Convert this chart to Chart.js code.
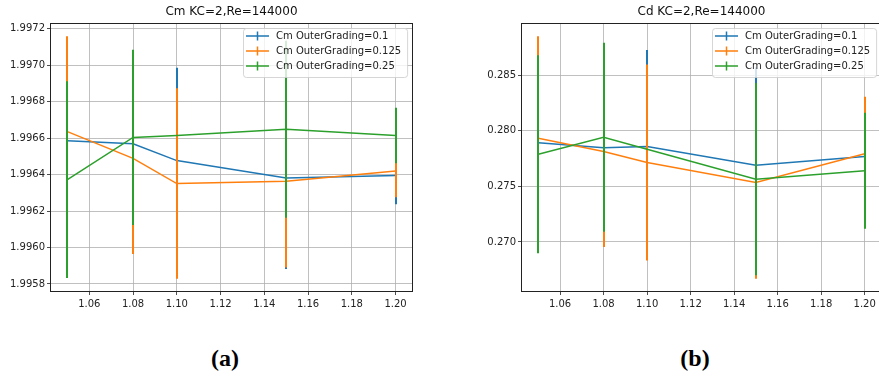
<!DOCTYPE html>
<html>
<head>
<meta charset="utf-8">
<script src="https://cdn.jsdelivr.net/npm/chart.js@4.4.0/dist/chart.umd.min.js"></script>
<style>
  html, body { margin: 0; padding: 0; background: #fff; overflow: hidden; }
  body { width: 879px; height: 373px; position: relative; }
  canvas { position: absolute; top: 0; }
  #cmChart { left: 0; }
  #cdChart { left: 440px; }
  .sub {
    position: absolute;
    top: 345px;
    line-height: 24px;
    font: bold 24px "Liberation Serif", serif;
    transform: translateX(-50%);
    color: #000;
  }
</style>
</head>
<body>
<canvas id="cmChart" width="440" height="320"></canvas>
<canvas id="cdChart" width="460" height="320"></canvas>
<div class="sub" style="left:225px">(a)</div>
<div class="sub" style="left:695px">(b)</div>

<script>
// ---------- Data ----------
const xValues = [1.05, 1.08, 1.10, 1.15, 1.20];
const xTicks = [1.06, 1.08, 1.10, 1.12, 1.14, 1.16, 1.18, 1.20];
const xRange = [1.0425, 1.2075];

const seriesLabels = ["Cm OuterGrading=0.1", "Cm OuterGrading=0.125", "Cm OuterGrading=0.25"];
const seriesColors = ["#1f77b4", "#ff7f0e", "#2ca02c"];

// inertia coefficient Cm (mean and spread per case)
const cmGrading01 = [1.996586, 1.996569, 1.996477, 1.996382, 1.996395];
const cmGrading0125 = [1.996636, 1.996489, 1.996351, 1.996364, 1.996420];
const cmGrading025 = [1.996373, 1.996604, 1.996615, 1.996649, 1.996615];
const cmErr01 = [0.00030, 0.00035, 0.000509, 0.00050, 0.000158];
const cmErr0125 = [0.000524, 0.000525, 0.000523, 0.000473, 0.000144];
const cmErr025 = [0.00054, 0.000481, 0.0, 0.000486, 0.000152];
const cmTicks = [1.9958, 1.9960, 1.9962, 1.9964, 1.9966, 1.9968, 1.9970, 1.9972];
const cmRange = [1.9957614, 1.9972266];

// drag coefficient Cd
const cdGrading01 = [0.278907, 0.278459, 0.278575, 0.276900, 0.277680];
const cdGrading0125 = [0.279320, 0.278127, 0.277142, 0.275350, 0.277920];
const cdGrading025 = [0.277885, 0.279409, 0.278333, 0.275645, 0.276400];
const cdErr01 = [0.0075, 0.0075, 0.008665, 0.0088, 0.0035];
const cdErr0125 = [0.009175, 0.008575, 0.008808, 0.008665, 0.005136];
const cdErr025 = [0.00889, 0.008485, 0.0, 0.008629, 0.005222];
const cdTicks = [0.270, 0.275, 0.280, 0.285];
const cdRange = [0.265595, 0.289585];

Chart.defaults.font.family = "'DejaVu Sans', sans-serif";
Chart.defaults.font.size = 10;
Chart.defaults.color = "#222";

// ---------- Plugins ----------
// vertical error bars, drawn right after their own line so later series sit on top
const errorBarPlugin = {
  id: "errorBars",
  afterDatasetDraw(chart, args) {
    const ds = chart.data.datasets[args.index];
    if (!ds.errors) return;
    const xs = chart.scales.x, ys = chart.scales.y;
    const ctx = chart.ctx;
    ctx.save();
    ctx.strokeStyle = ds.borderColor;
    ctx.lineWidth = 2;
    ds.data.forEach((p, i) => {
      const e = ds.errors[i];
      if (!e) return;
      // snap to whole pixels so stacked bars cover each other cleanly
      const px = Math.round(xs.getPixelForValue(p.x));
      ctx.beginPath();
      ctx.moveTo(px, ys.getPixelForValue(p.y - e));
      ctx.lineTo(px, ys.getPixelForValue(p.y + e));
      ctx.stroke();
    });
    ctx.restore();
  }
};

// four-sided axes box
const framePlugin = {
  id: "frame",
  afterDatasetsDraw(chart) {
    const { ctx, chartArea: a } = chart;
    ctx.save();
    ctx.strokeStyle = "#222";
    ctx.lineWidth = 1;
    ctx.strokeRect(Math.round(a.left) - 0.5, Math.round(a.top) - 0.5,
      Math.round(a.right - a.left) + 1, Math.round(a.bottom - a.top) + 1);
    ctx.restore();
  }
};

// legend box in the upper right corner of the plot
const boxLegendPlugin = {
  id: "boxLegend",
  afterDraw(chart) {
    const { ctx, chartArea } = chart;
    const items = chart.data.datasets.map((ds) => ({ text: ds.label, color: ds.borderColor }));
    ctx.save();
    ctx.font = "10px 'DejaVu Sans'";
    const textW = Math.max(...items.map((it) => ctx.measureText(it.text).width));
    const w = 33 + textW + 6;
    const h = 49;
    const left = Math.round(chartArea.right - 5 - w);
    const top = Math.round(chartArea.top + 4);

    ctx.beginPath();
    ctx.roundRect(left + 0.5, top + 0.5, w, h, 3);
    ctx.fillStyle = "rgba(255,255,255,0.8)";
    ctx.fill();
    ctx.strokeStyle = "rgba(204,204,204,0.8)";
    ctx.lineWidth = 1;
    ctx.stroke();

    items.forEach((it, i) => {
      const cy = top + 8 + i * 15;
      ctx.strokeStyle = it.color;
      ctx.lineWidth = 1.5;
      ctx.beginPath();
      ctx.moveTo(left + 3, cy);
      ctx.lineTo(left + 26, cy);
      ctx.moveTo(left + 14.5, cy - 4.5);
      ctx.lineTo(left + 14.5, cy + 4.5);
      ctx.stroke();
      ctx.fillStyle = "#222";
      ctx.textBaseline = "middle";
      ctx.fillText(it.text, left + 33, cy + 0.5);
    });
    ctx.restore();
  }
};

// ---------- Chart builder ----------
function makeSeries(values, errors, idx) {
  return {
    label: seriesLabels[idx],
    data: xValues.map((x, i) => ({ x, y: values[i] })),
    errors,
    borderColor: seriesColors[idx],
    backgroundColor: seriesColors[idx],
    borderWidth: 1.5,
    pointRadius: 0,
    tension: 0,
    fill: false,
    order: 2 - idx
  };
}

function makeChart(id, title, series, yRange, yTicks, digits, plotLeft, padRight) {
  const ctx = document.getElementById(id).getContext("2d");
  return new Chart(ctx, {
    type: "line",
    data: { datasets: series },
    options: {
      responsive: false,
      animation: false,
      layout: { padding: { left: 0, right: padRight, top: 0, bottom: 0 } },
      plugins: {
        legend: { display: false },
        tooltip: { enabled: false },
        title: {
          display: true,
          text: title,
          fullSize: false,
          color: "#111",
          font: { size: 12, weight: "normal" },
          padding: { top: 5, bottom: 4.6 }
        }
      },
      scales: {
        x: {
          type: "linear",
          min: xRange[0],
          max: xRange[1],
          afterBuildTicks: (axis) => { axis.ticks = xTicks.map((v) => ({ value: v })); },
          afterFit: (scale) => { scale.height = 29; },
          ticks: { padding: 3, maxRotation: 0, callback: (v) => v.toFixed(2) },
          grid: { color: "#b0b0b0", lineWidth: 0.8, tickLength: 4, tickColor: "#222" },
          border: { display: false }
        },
        y: {
          type: "linear",
          min: yRange[0],
          max: yRange[1],
          afterBuildTicks: (axis) => { axis.ticks = yTicks.map((v) => ({ value: v })); },
          afterFit: (scale) => { scale.width = plotLeft; },
          ticks: { padding: 2, callback: (v) => v.toFixed(digits) },
          grid: { color: "#b0b0b0", lineWidth: 0.8, tickLength: 4, tickColor: "#222" },
          border: { display: false }
        }
      }
    },
    plugins: [errorBarPlugin, framePlugin, boxLegendPlugin]
  });
}

makeChart("cmChart", "Cm KC=2,Re=144000", [
  makeSeries(cmGrading01, cmErr01, 0),
  makeSeries(cmGrading0125, cmErr0125, 1),
  makeSeries(cmGrading025, cmErr025, 2)
], cmRange, cmTicks, 4, 51, 28);

makeChart("cdChart", "Cd KC=2,Re=144000", [
  makeSeries(cdGrading01, cdErr01, 0),
  makeSeries(cdGrading0125, cdErr0125, 1),
  makeSeries(cdGrading025, cdErr025, 2)
], cdRange, cdTicks, 3, 82, 19);
</script>
</body>
</html>
